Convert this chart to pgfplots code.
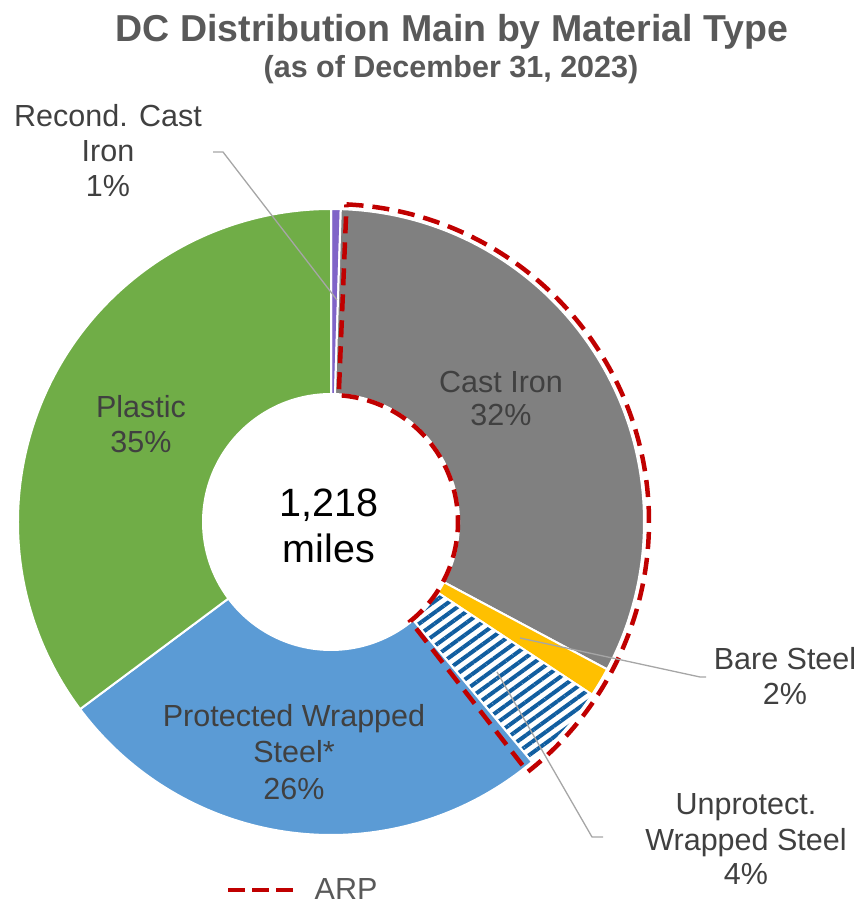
\documentclass[border=0pt]{standalone}
\usepackage{fontspec}
\setmainfont{Liberation Sans}
\usepackage{pgfplots}
\pgfplotsset{compat=1.18}
\usepackage{pgfplotstable}
\usetikzlibrary{patterns.meta}

\definecolor{cGreen}{HTML}{70AD47}
\definecolor{cBlue}{HTML}{5B9BD5}
\definecolor{cGray}{HTML}{808080}
\definecolor{cYellow}{HTML}{FFC000}
\definecolor{cPurple}{HTML}{8064C8}
\definecolor{cRed}{HTML}{C00000}
\definecolor{cStripe}{HTML}{115EA0}
\definecolor{cText}{HTML}{404040}
\definecolor{cTitle}{HTML}{595959}
\definecolor{cLeader}{HTML}{A6A6A6}

% share of total length (%), clockwise from 12 o'clock
\pgfplotstableread{
name value
Recond 0.5
CastIron 32.3
Bare 1.5
Unprot 4.6
Protected 25.9
Plastic 35.2
}\datatable

\def\cx{331}\def\cy{384}
\def\Ro{313pt}\def\Ri{128pt}
\newcommand\slice[3]{%
  \path[draw=white, line width=2pt, #3]
    ([shift={(#1:\Ro)}]axis cs:\cx,\cy) arc[start angle=#1, end angle=#2, radius=\Ro]
    -- ([shift={(#2:\Ri)}]axis cs:\cx,\cy) arc[start angle=#2, end angle=#1, radius=\Ri]
    -- cycle;}
\newcommand\lbl{\fontsize{30.5}{36}\selectfont}

\begin{document}
\begin{tikzpicture}
\pgfplotstablegetelem{0}{value}\of\datatable \pgfmathsetmacro\aA{90-3.6*\pgfplotsretval}
\pgfplotstablegetelem{1}{value}\of\datatable \pgfmathsetmacro\aB{\aA-3.6*\pgfplotsretval}
\pgfplotstablegetelem{2}{value}\of\datatable \pgfmathsetmacro\aC{\aB-3.6*\pgfplotsretval}
\pgfplotstablegetelem{3}{value}\of\datatable \pgfmathsetmacro\aD{\aC-3.6*\pgfplotsretval}
\pgfplotstablegetelem{4}{value}\of\datatable \pgfmathsetmacro\aE{\aD-3.6*\pgfplotsretval}
\pgfplotstablegetelem{5}{value}\of\datatable \pgfmathsetmacro\aF{\aE-3.6*\pgfplotsretval}
\begin{axis}[name=ax, hide axis, scale only axis,
  width=863pt, height=906pt,
  xmin=0, xmax=863, ymin=0, ymax=906, clip=false,
  legend style={at={(axis cs:226,16)}, anchor=west, draw=none, fill=none,
    inner sep=0pt, text=cTitle, font=\lbl, column sep=17pt},
  legend image code/.code={\draw[cRed, line width=4.5pt, dash pattern=on 17pt off 7pt] (0pt,0pt) -- (65pt,0pt);},
]
\slice{90}{\aA}{fill=cPurple}
\slice{\aA}{\aB}{fill=cGray}
\slice{\aB}{\aC}{fill=cYellow}
\slice{\aC}{\aD}{preaction={fill=white}, pattern={Lines[angle=36,distance=9pt,line width=4pt]}, pattern color=cStripe}
\slice{\aD}{\aE}{fill=cBlue}
\slice{\aE}{\aF}{fill=cGreen}

% ARP outline
\draw[cRed, line width=4.5pt, dash pattern=on 17pt off 9pt]
  ([shift={(87.2:318pt)}]axis cs:\cx,\cy) arc[start angle=87.2, end angle=-51.8, radius=318pt]
  -- ([shift={(-51.3:127pt)}]axis cs:\cx,\cy) arc[start angle=-51.3, end angle=86.5, radius=127pt]
  -- cycle;

% leader lines
\addplot[cLeader, line width=1.3pt, no marks, forget plot] coordinates {(213,754) (223,754) (337,606)};
\addplot[cLeader, line width=1.3pt, no marks, forget plot] coordinates {(520,268) (700,229) (706,229)};
\addplot[cLeader, line width=1.3pt, no marks, forget plot] coordinates {(497,234) (592,69) (603,69)};

\addlegendimage{}
\addlegendentry{ARP}

% titles
\node[anchor=base, text=cTitle, font=\bfseries\fontsize{37.5}{42}\selectfont] at (axis cs:452,864) {DC Distribution Main by Material Type};
\node[anchor=base, text=cTitle, font=\bfseries\fontsize{30.5}{36}\selectfont] at (axis cs:451,828) {(as of December 31, 2023)};

% labels
\begin{scope}[every node/.style={anchor=base, text=cText, font=\lbl, inner sep=0pt}]
\node at (axis cs:108,779) {Recond. Cast};
\node at (axis cs:108,744) {Iron};
\node at (axis cs:108,709) {1\%};
\node at (axis cs:501,513) {Cast Iron};
\node at (axis cs:501,480) {32\%};
\node at (axis cs:141,488) {Plastic};
\node at (axis cs:141,453) {35\%};
\node at (axis cs:294,179) {Protected Wrapped};
\node at (axis cs:294,143) {Steel*};
\node at (axis cs:294,106) {26\%};
\node at (axis cs:785,236) {Bare Steel};
\node at (axis cs:785,201) {2\%};
\node at (axis cs:746,91) {Unprotect.};
\node at (axis cs:746,56) {Wrapped Steel};
\node at (axis cs:746,21) {4\%};
\node[text=black, font=\fontsize{39.5}{46}\selectfont] at (axis cs:329,389) {1,218};
\node[text=black, font=\fontsize{39.5}{46}\selectfont] at (axis cs:329,343) {miles};
\end{scope}
\end{axis}
\pgfresetboundingbox
\path (ax.south west) rectangle (ax.north east);
\end{tikzpicture}
\end{document}
